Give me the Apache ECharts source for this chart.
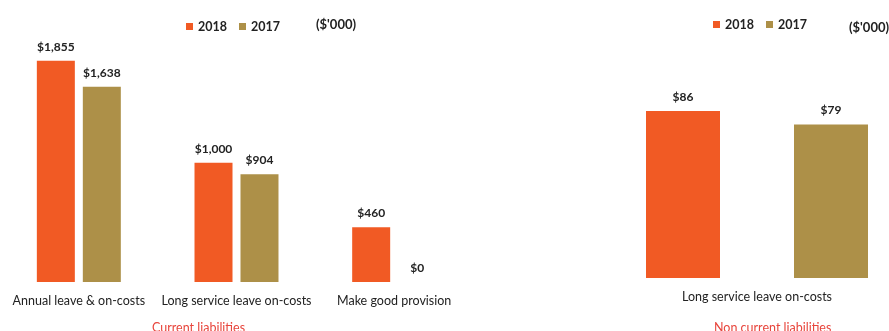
<!DOCTYPE html>
<html>
<head>
<meta charset="utf-8">
<script src="https://cdn.jsdelivr.net/npm/echarts@6/dist/echarts.min.js"></script>
<style>
  html, body { margin: 0; padding: 0; background: #fff; }
  #chart { width: 889px; height: 331px; }
</style>
</head>
<body>
<div id="chart"></div>
<script>
// data ($'000)
const seriesNames = ['2018', '2017'];
const currentCategories = ['Annual leave & on-costs', 'Long service leave on-costs', 'Make good provision'];
const current2018 = [1855, 1000, 460];
const current2017 = [1638, 904, 0];
const nonCurrentCategories = ['Long service leave on-costs'];
const nonCurrent2018 = [86];
const nonCurrent2017 = [79];

const FONT = 'Lato, "Open Sans", sans-serif';
const ORANGE = '#f15a24';
const GOLD = '#ad9048';

const myChart = echarts.init(document.getElementById('chart'));

const valueLabel = {
    show: true,
    position: 'top',
    distance: 8,
    color: '#222',
    fontWeight: 'bold',
    fontSize: 12,
    fontFamily: FONT,
    formatter: p => '$' + p.value.toLocaleString('en-US')
};

const catAxis = (idx, data) => ({
    type: 'category',
    gridIndex: idx,
    data: data,
    axisLine: { show: false },
    axisTick: { show: false },
    axisLabel: {
        color: '#222',
        fontSize: 12.5,
        fontFamily: FONT,
        margin: 12,
        interval: 0
    }
});

const valAxis = (idx, max) => ({
    type: 'value',
    gridIndex: idx,
    min: 0,
    max: max,
    show: false,
    splitLine: { show: false }
});

const option = {
    animation: false,
    textStyle: { fontFamily: FONT },
    title: [
        { text: "($'000)", left: 311, top: 13, textStyle: { fontSize: 13, fontWeight: 'bold', color: '#222', fontFamily: FONT } },
        { text: "($'000)", left: 844, top: 16, textStyle: { fontSize: 13, fontWeight: 'bold', color: '#222', fontFamily: FONT } },
        { text: 'Current liabilities', left: 147, top: 316, textStyle: { fontSize: 12.5, fontWeight: 'normal', color: '#e8453c', fontFamily: FONT } },
        { text: 'Non current liabilities', left: 709, top: 316, textStyle: { fontSize: 12.5, fontWeight: 'normal', color: '#e8453c', fontFamily: FONT } }
    ],
    legend: [
        {
            data: seriesNames, left: 181, top: 15, icon: 'rect', itemWidth: 7, itemHeight: 7, itemGap: 12,
            textStyle: { fontSize: 12.5, fontWeight: 'bold', color: '#222', fontFamily: FONT }
        },
        {
            data: seriesNames, left: 708, top: 13, icon: 'rect', itemWidth: 7, itemHeight: 7, itemGap: 12,
            textStyle: { fontSize: 12.5, fontWeight: 'bold', color: '#222', fontFamily: FONT }
        }
    ],
    grid: [
        { left: -4, width: 477, top: 40, bottom: 49 },
        { left: 625, width: 298, top: 40, bottom: 53 }
    ],
    xAxis: [catAxis(0, currentCategories), catAxis(1, nonCurrentCategories)],
    yAxis: [valAxis(0, 2030), valAxis(1, 122.5)],
    series: [
        { name: '2018', type: 'bar', xAxisIndex: 0, yAxisIndex: 0, data: current2018, barWidth: 38, barGap: '21%', itemStyle: { color: ORANGE }, label: valueLabel },
        { name: '2017', type: 'bar', xAxisIndex: 0, yAxisIndex: 0, data: current2017, barWidth: 38, barGap: '21%', itemStyle: { color: GOLD }, label: valueLabel },
        { name: '2018', type: 'bar', xAxisIndex: 1, yAxisIndex: 1, data: nonCurrent2018, barWidth: 74, barGap: '100%', itemStyle: { color: ORANGE }, label: valueLabel },
        { name: '2017', type: 'bar', xAxisIndex: 1, yAxisIndex: 1, data: nonCurrent2017, barWidth: 74, barGap: '100%', itemStyle: { color: GOLD }, label: valueLabel }
    ]
};

myChart.setOption(option);
window.addEventListener('resize', function () {
    myChart.resize();
});
</script>
</body>
</html>
